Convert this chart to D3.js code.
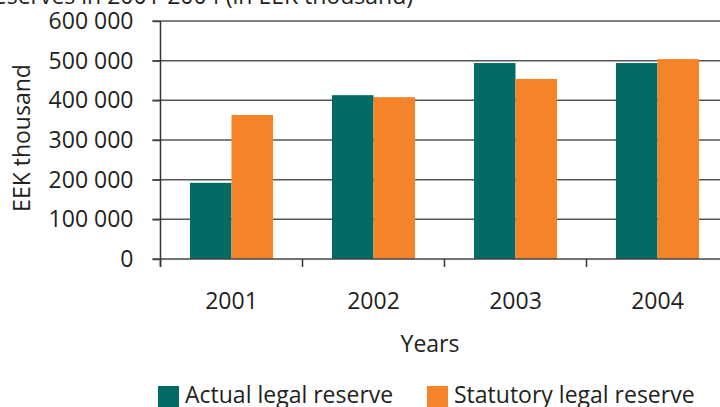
<!DOCTYPE html>
<html>
<head>
<meta charset="utf-8">
<script src="https://cdn.jsdelivr.net/npm/d3@7"></script>
<style>
  html, body { margin: 0; padding: 0; background: #fff; }
  svg { display: block; }
  text { font-family: "Open Sans", "Noto Sans", sans-serif; fill: #231f20; font-size: 23px; }
</style>
</head>
<body>
<svg id="chart" width="720" height="407"></svg>
<script>
// Legal reserve by year, EEK thousand
const years = ["2001", "2002", "2003", "2004"];
const seriesNames = ["Actual legal reserve", "Statutory legal reserve"];
const actualReserve = [192000, 413000, 494000, 494000];
const statutoryReserve = [363000, 408000, 454000, 504000];
const yTicks = [0, 100000, 200000, 300000, 400000, 500000, 600000];
const colors = ["#016b64", "#f5832a"];

const svg = d3.select("#chart");
const W = 720;
const plotLeft = 160.5, plotBottom = 259, plotTop = 21;

const y = d3.scaleLinear().domain([0, 600000]).range([plotBottom, plotTop]);
const x = d3.scaleBand().domain(years).range([plotLeft, plotLeft + 4 * 142])
  .paddingInner(0.415).paddingOuter(0.2075);
const xs = d3.scaleBand().domain(seriesNames).range([0, x.bandwidth()]);

const fmt = v => d3.format(",")(v).replace(/,/g, " ");

// title line (top cut by page edge)
svg.append("text").attr("x", 413).attr("y", 4).attr("text-anchor", "end")
  .text("Legal reserves in 2001-2004 (in EEK thousand)");

// horizontal gridlines
svg.append("g").selectAll("line").data(yTicks.slice(1)).join("line")
  .attr("x1", plotLeft - 8).attr("x2", W)
  .attr("y1", d => y(d)).attr("y2", d => y(d))
  .attr("stroke", "#555").attr("stroke-width", 1.5);

// bars
const rows = years.map((yr, i) => ({ year: yr, values: [actualReserve[i], statutoryReserve[i]] }));
svg.append("g").selectAll("g").data(rows).join("g")
  .attr("transform", d => `translate(${x(d.year)},0)`)
  .selectAll("rect").data(d => d.values.map((v, j) => ({ name: seriesNames[j], v, j }))).join("rect")
  .attr("x", d => xs(d.name)).attr("width", xs.bandwidth())
  .attr("y", d => y(d.v)).attr("height", d => y(0) - y(d.v))
  .attr("fill", d => colors[d.j]);

// y axis
const yAxis = svg.append("g").attr("transform", `translate(${plotLeft},0)`)
  .call(d3.axisLeft(y).tickValues(yTicks).tickSize(8).tickPadding(19).tickFormat(fmt));
yAxis.select(".domain").remove();
yAxis.selectAll(".tick line").attr("stroke", "#444").attr("stroke-width", 1.5);
yAxis.selectAll("text").style("font-size", "23px").attr("fill", "#231f20");
svg.append("line").attr("x1", plotLeft).attr("x2", plotLeft).attr("y1", plotTop).attr("y2", plotBottom + 8)
  .attr("stroke", "#333").attr("stroke-width", 1.5);

// x axis
const xAxis = svg.append("g").attr("transform", `translate(0,${plotBottom})`)
  .call(d3.axisBottom(x).tickSize(0).tickPadding(34));
xAxis.select(".domain").remove();
xAxis.selectAll("text").style("font-size", "23px").attr("fill", "#231f20");
svg.append("line").attr("x1", plotLeft - 8).attr("x2", W).attr("y1", plotBottom).attr("y2", plotBottom)
  .attr("stroke", "#444").attr("stroke-width", 1.5);
svg.append("g").selectAll("line").data(years).join("line")
  .attr("x1", d => x(d) - x.step() * x.paddingOuter())
  .attr("x2", d => x(d) - x.step() * x.paddingOuter())
  .attr("y1", plotBottom).attr("y2", plotBottom + 8)
  .attr("stroke", "#333").attr("stroke-width", 1.5);

// axis titles
svg.append("text").attr("x", 430).attr("y", 352).attr("text-anchor", "middle").text("Years");
svg.append("text").attr("transform", "translate(30,138) rotate(-90)").attr("text-anchor", "middle")
  .text("EEK thousand");

// legend
const legX = [158, 427];
const leg = svg.append("g").selectAll("g").data(seriesNames).join("g")
  .attr("transform", (d, i) => `translate(${legX[i]},386)`);
leg.append("rect").attr("width", 21).attr("height", 22).attr("fill", (d, i) => colors[i]);
leg.append("text").attr("x", 27).attr("y", 17).text(d => d);
</script>
</body>
</html>
